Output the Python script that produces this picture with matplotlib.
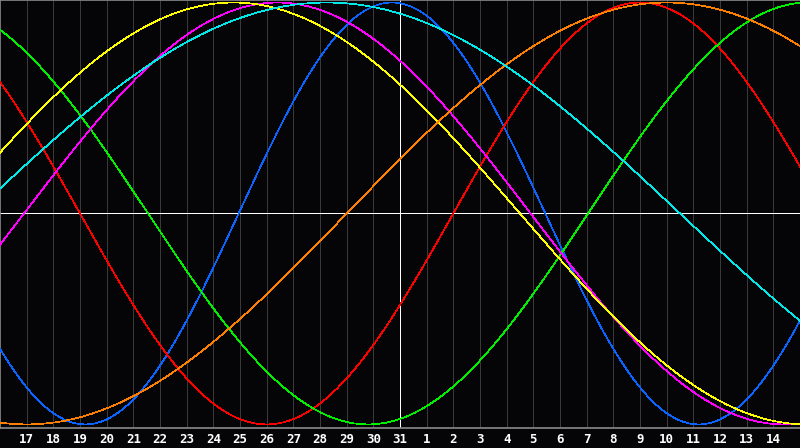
import numpy as np
import matplotlib
matplotlib.use('Agg')
import matplotlib.pyplot as plt

# ========================
# data
# ========================
day_labels = [17, 18, 19, 20, 21, 22, 23, 24, 25, 26, 27, 28, 29, 30, 31,
              1, 2, 3, 4, 5, 6, 7, 8, 9, 10, 11, 12, 13, 14]
today_index = 15          # day 31 -> white vertical marker

# cycle length (days) and peak position (days from the left edge)
cycle_names = ['physical', 'emotional', 'intellectual', 'intuitive',
               'aesthetic', 'awareness', 'spiritual']
cycle_periods = [23, 28, 33, 38, 43, 48, 53]
cycle_peaks = [14.7, 24.0, 30.3, 10.4, 8.75, 25.0, 12.25]
cycle_colors = ['#0a64ff', '#ff0000', '#00f000', '#ff00ff',
                '#ffff00', '#ff8000', '#00e8e8']

BG = '#050508'
GRID = '#3a3a3a'

fig = plt.figure(figsize=(8, 4.48), dpi=100, facecolor=BG)
ax = fig.add_axes([0, 20 / 448, 1, 428 / 448])
ax.set_facecolor(BG)

n_days = len(day_labels) + 1
ax.set_xlim(0, n_days)
ax.set_ylim(-1.017, 1.012)

# day grid
for i in range(1, n_days):
    if i == today_index:
        continue
    ax.axvline(i, color=GRID, lw=0.5, antialiased=False, zorder=1)

# curves
t = np.linspace(0, n_days, 1600)
for per, pk, col in zip(cycle_periods, cycle_peaks, cycle_colors):
    y = np.cos(2 * np.pi * (t - pk) / per)
    ax.plot(t, y, color=col, lw=0.5, antialiased=False, zorder=3)

# axes cross
ax.axhline(0, color='white', lw=0.6, antialiased=False, zorder=2)
ax.axvline(today_index, color='white', lw=0.6, antialiased=False, zorder=2)

for s in ['left', 'top', 'bottom']:
    ax.spines[s].set_color('#8a8a8a')
    ax.spines[s].set_linewidth(1.2)
ax.spines['right'].set_visible(False)
ax.set_xticks([])
ax.set_yticks([])

# day labels under the plot
for i, d in enumerate(day_labels):
    fig.text((i + 1) / n_days, 9 / 448, str(d), color='white',
             fontsize=9, fontweight='bold', family='DejaVu Sans Mono',
             ha='center', va='center')

fig.savefig('out.png', dpi=100, facecolor=BG)
